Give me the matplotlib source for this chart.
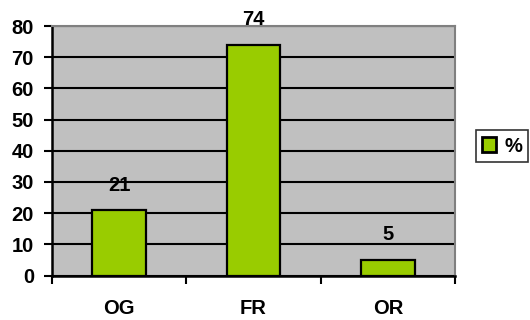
import matplotlib.pyplot as plt

categories = ['OG', 'FR', 'OR']
values = [21, 74, 5]
series_name = '%'

plt.rcParams['font.family'] = ['Liberation Sans', 'DejaVu Sans']
plt.rcParams['font.weight'] = 'bold'
fs = 14.5

fig = plt.figure(figsize=(5.3, 3.2), dpi=100)
ax = fig.add_axes([52 / 530, 1 - 275.5 / 320, 403 / 530, 249.5 / 320])
ax.set_facecolor('#C0C0C0')

x = list(range(len(categories)))
bars = ax.bar(x, values, width=0.4, color='#99CC00', edgecolor='black',
              linewidth=1.6, label=series_name, zorder=3)

for xi, v in zip(x, values):
    ax.annotate(str(v), (xi, v), xytext=(0, 18), textcoords='offset points',
                ha='center', va='center', fontsize=fs, fontweight='bold')

ax.set_xlim(-0.5, len(categories) - 0.5)
ax.set_ylim(0, 80)
ax.set_yticks(range(0, 81, 10))
ax.yaxis.grid(True, color='black', linewidth=1.5, zorder=1)
ax.set_axisbelow(True)

ax.set_xticks([i - 0.5 for i in range(len(categories) + 1)])
ax.set_xticklabels([])
ax.set_xticks(x, minor=True)
ax.set_xticklabels(categories, minor=True, fontsize=fs, fontweight='bold')
ax.tick_params(axis='x', which='minor', length=0, pad=17)
ax.tick_params(axis='x', which='major', length=6, width=1.5, direction='out')
ax.tick_params(axis='y', length=6, width=1.5, direction='out', labelsize=fs, pad=7)

ax.spines['left'].set_linewidth(1.8)
ax.spines['bottom'].set_linewidth(1.8)
ax.spines['top'].set_color('#808080')
ax.spines['right'].set_color('#808080')
ax.spines['top'].set_linewidth(1.5)
ax.spines['right'].set_linewidth(1.5)

leg = fig.legend(loc='center left', bbox_to_anchor=(476 / 530, 1 - 146 / 320),
                 fontsize=fs, frameon=True, fancybox=False, handlelength=0.7,
                 handleheight=0.7, handletextpad=0.4, borderpad=0.3,
                 borderaxespad=0)
leg.get_frame().set_edgecolor('black')
leg.get_frame().set_linewidth(1.2)
for h in leg.legend_handles:
    h.set_linewidth(2)

fig.savefig('out.png', dpi=100)
